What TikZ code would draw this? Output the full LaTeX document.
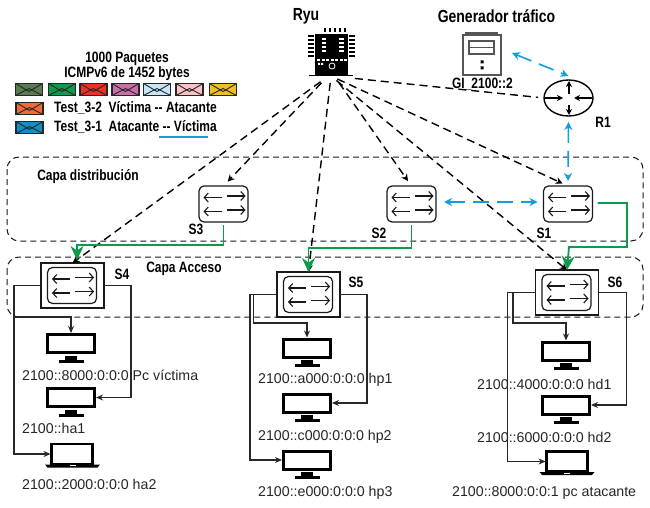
\documentclass[tikz,border=0pt]{standalone}
\usepackage{fontspec}
\setmainfont{Liberation Sans}
\newfontfamily\labelfont[FakeStretch=0.8]{Liberation Sans}
\usetikzlibrary{positioning, arrows.meta, shapes.geometric, calc}
\definecolor{linkblue}{RGB}{15,160,220}
\definecolor{linkgreen}{RGB}{10,155,75}
\definecolor{wirecolor}{RGB}{40,40,40}
\definecolor{devgray}{RGB}{85,85,85}
\definecolor{env1}{RGB}{90,122,80}
\definecolor{env2}{RGB}{15,154,74}
\definecolor{env3}{RGB}{238,49,36}
\definecolor{env4}{RGB}{200,111,168}
\definecolor{env5}{RGB}{200,230,248}
\definecolor{env6}{RGB}{251,192,196}
\definecolor{env7}{RGB}{240,190,30}
\definecolor{envorange}{RGB}{242,106,53}
\definecolor{envblue}{RGB}{13,143,200}

\begin{document}
\begin{tikzpicture}[x=1pt, y=-1pt,
    lbl/.style={inner sep=0pt, font=\labelfont\bfseries\fontsize{15}{16}\selectfont},
    big lbl/.style={inner sep=0pt, font=\labelfont\bfseries\fontsize{17.5}{18}\selectfont},
    addr/.style={inner sep=0pt, anchor=west, text=black!85, font=\fontsize{14.2}{15}\selectfont},
    layer/.style={draw=black!90, rounded corners=12pt, line width=1pt, dash pattern=on 6pt off 4pt},
    ctrl/.style={black, line width=1.4pt, dash pattern=on 8pt off 5pt, shorten <=7pt, -{Stealth[length=7pt,width=7pt]}},
    blue link/.style={linkblue, line width=1.6pt, dash pattern=on 16pt off 8pt, {Stealth[length=8pt,width=8pt]}-{Stealth[length=8pt,width=8pt]}},
    green link/.style={linkgreen, line width=1.8pt, -{Stealth[length=14pt,width=13pt]}},
    wire/.style={wirecolor, line width=1.2pt, -{Stealth[length=7pt,width=6pt]}},
    sw/.style={draw=black!90, rounded corners=5pt, line width=1.2pt, fill=white, minimum width=49pt, minimum height=36pt, inner sep=0pt, outer sep=0pt},
    swout/.style={draw=black!90, line width=1.3pt, fill=white, minimum width=63pt, minimum height=45pt, inner sep=0pt, outer sep=0pt},
    screen/.style={draw=black, line width=3pt, fill=white, minimum width=47pt, minimum height=18pt, inner sep=0pt, outer sep=1.5pt},
    lapscreen/.style={draw=black, line width=2.2pt, fill=white, minimum width=41pt, minimum height=20pt, inner sep=0pt, outer sep=1pt},
    envelope/.style={draw=black!85, line width=1.3pt, fill=#1, minimum width=27pt, minimum height=12pt, inner sep=0pt,
        path picture={
            \draw[black!85, line width=0.9pt] (path picture bounding box.north west) -- ($(path picture bounding box.center)+(0,2)$) -- (path picture bounding box.north east);
            \draw[black!85, line width=0.9pt] (path picture bounding box.south west) -- ($(path picture bounding box.center)+(0,-1)$) -- (path picture bounding box.south east);
        }},
    pics/swarrows/.style={code={
        \draw[black!90, line width=1.1pt, -{Straight Barb[length=4pt,width=9pt]}] (-2,-6.5) -- (-20,-6.5);
        \draw[black!90, line width=1.1pt, -{Straight Barb[length=4pt,width=9pt]}] (3,-8) -- (22,-8);
        \draw[black!90, line width=1.1pt, -{Straight Barb[length=4pt,width=9pt]}] (-2,7.5) -- (-20,7.5);
        \draw[black!90, line width=1.1pt, -{Straight Barb[length=4pt,width=9pt]}] (3,6) -- (22,6);
    }},
    pics/stand/.style={code={
        \fill[black] (-6,0) rectangle (6,4);
        \fill[black] (-12.5,4) rectangle (12.5,7);
    }},
    pics/lapbase/.style={code={
        \fill[black] (-27.5,0) -- (27.5,0) -- (25,3) -- (-25,3) -- cycle;
        \fill[white] (-3,0.6) rectangle (3,1.8);
    }}
]
    \useasboundingbox (0,0) rectangle (650,508);

    % === CAPAS ===
    \node[lbl] (capadist) at (88,177) {Capa distribución};
    \node[lbl] (capaacc) at (184,269) {Capa Acceso};
    \draw[layer] (7,157) rectangle (643,241);
    \draw[layer] (7,257) rectangle (643,317);

    % === RYU ===
    \node[big lbl] (ryulabel) at (306,16) {Ryu};
    \node[fill=black, minimum width=33pt, minimum height=41pt, inner sep=0pt, outer sep=0pt] (ryu) at (331.5,54.5) {};
    \draw[black, line width=1.2pt] (309,75.3) -- (353,75.3);
    \foreach \px in {325,330,335,340,345} \fill[black] (\px-1,28) rectangle (\px+1,32);
    \foreach \py in {36,40,44,48,52,56} {
        \fill[black] (308,\py-0.8) rectangle (314,\py+0.8);
        \fill[black] (349,\py-0.8) rectangle (355,\py+0.8);
    }
    \foreach \py in {39,43,47,51} {
        \fill[white] (322,\py-1) rectangle (326,\py+1);
        \fill[white] (339,\py-1) rectangle (344,\py+1);
    }
    \foreach \px in {317,321.5,326,330.5,335,339.5,344} \fill[white] (\px,59.5) rectangle (\px+3,61.5);
    \fill[white] (318,63) rectangle (320,65) (321,63) rectangle (323,65);
    \draw[white, line width=0.8pt] (332,66) circle (3);
    \coordinate (hub) at (331,76);
    \coordinate (hubleft) at (327,77);
    \coordinate (hubright) at (335,77);

    % === GENERADOR ===
    \node[big lbl] (genlabel) at (496.5,16) {Generador tráfico};
    \node[draw=devgray, line width=1.1pt, minimum width=38pt, minimum height=40pt, inner sep=0pt, outer sep=0pt] (gen) at (482,55) {};
    \draw[devgray, line width=1.1pt] (466,35) -- (466,33) -- (497,33) -- (497,35);
    \node[draw=devgray, line width=1.1pt, minimum width=25pt, minimum height=13pt, inner sep=0pt] (genpanel) at (481.5,47.5) {};
    \draw[devgray, line width=1.1pt] (genpanel.west) -- (genpanel.east);
    \fill[black] (480.5,60.5) rectangle (483.5,63.5) (480.5,66.5) rectangle (483.5,69.5);
    \node[lbl] (genaddr) at (482.5,84) {GI\_2100::2};

    % === R1 ===
    \node[draw=black, ellipse, line width=1.4pt, minimum width=49pt, minimum height=36pt, inner sep=0pt, outer sep=0pt] (r1) at (568.5,98) {};
    \foreach \ax/\ay/\bx/\by in {569/94/569/81,569/105/569/115,545/98/563/98,592/98/574/98}
        \draw[black, line width=1.3pt, -{Stealth[length=6pt,width=6pt]}] (\ax,\ay) -- (\bx,\by);
    \node[lbl] (r1label) at (603,122) {R1};

    % === SWITCHES DISTRIBUCIÓN ===
    \node[sw] (s3) at (223.5,204) {};
    \node[sw] (s2) at (411.5,204) {};
    \node[sw] (s1) at (568,204) {};
    \pic at (s3) {swarrows};
    \pic at (s2) {swarrows};
    \pic at (s1) {swarrows};
    \node[lbl] (s3label) at (196,229) {S3};
    \node[lbl] (s2label) at (379,233) {S2};
    \node[lbl] (s1label) at (544,233) {S1};

    % === SWITCHES ACCESO ===
    \node[swout] (s4out) at (72.5,285.5) {};
    \node[sw] (s4) at (72,285.5) {};
    \node[swout] (s5out) at (308.5,294.5) {};
    \node[sw] (s5) at (308,294.5) {};
    \node[swout] (s6out) at (567,292.5) {};
    \node[sw] (s6) at (566.5,292.5) {};
    \pic at (s4) {swarrows};
    \pic at (s5) {swarrows};
    \pic at (s6) {swarrows};
    \node[lbl] (s4label) at (122,274) {S4};
    \node[lbl] (s5label) at (356,282) {S5};
    \node[lbl] (s6label) at (615,282) {S6};

    % === CONTROL ===
    \draw[ctrl, shorten <=8pt] (hubleft) -- (s4out.north);
    \draw[ctrl, shorten <=8pt, shorten >=6pt] (hubleft) -- (s3.north);
    \draw[ctrl] (hub) -- (s5out.north);
    \draw[ctrl, shorten >=6pt] (hubright) -- (s2.north);
    \draw[ctrl, shorten >=6pt] (hub) -- (s1.north);
    \draw[ctrl] (hub) -- (s6out.north);
    \draw[ctrl, -, shorten >=6pt, shorten <=24pt] (hub) -- (r1.west);

    % === ENLACES ===
    \draw[blue link] ($(gen.east)+(11,-2)$) -- ($(r1.north)+(0,-4)$);
    \draw[blue link, shorten <=5pt, shorten >=5pt] (r1.south) ++(0,1) -- (s1.north);
    \draw[blue link] ($(s2.east)+(8,-2)$) -- ($(s1.west)+(-6,-2)$);
    \draw[green link] (s3.south) ++(0,3) -- ++(0,20) -| ($(s4out.north)+(4.5,-3)$);
    \draw[green link] (s2.south) ++(0,3) -- ++(0,23) -| (s5out.north);
    \draw[green link] ($(s1.east)+(5,-1)$) -- (627,203) |- (569,247) -- (s6out.north);

    % === EQUIPOS S4 ===
    \node[screen] (pc1) at (71,343.5) {};
    \pic at (71,355.5) {stand};
    \node[screen] (pc2) at (71,397.5) {};
    \pic at (71,409.5) {stand};
    \node[lapscreen] (lap1) at (72,454) {};
    \pic at (72.5,464.5) {lapbase};
    \draw[wire] (s4out.west) -- ++(-27,0) |- (lap1.west);
    \draw[wire] (14,317) -- (71,317) -- (pc1.north);
    \draw[wire] (s4out.east) -- ++(27,0) |- (pc2.east);
    \node[addr] (a1) at (22,375) {2100::8000:0:0:0 Pc víctima};
    \node[addr] (a2) at (22,428) {2100::ha1};
    \node[addr] (a3) at (22,484) {2100::2000:0:0:0 ha2};

    % === EQUIPOS S5 ===
    \node[screen] (pc3) at (307,348) {};
    \pic at (307,360) {stand};
    \node[screen] (pc4) at (307,403) {};
    \pic at (307,415) {stand};
    \node[screen] (pc5) at (307,460) {};
    \pic at (307,472) {stand};
    \draw[wire] (s5out.west) -- ++(-27,0) |- (pc5.west);
    \draw[wire] (253.5,294.5) -- (253.5,323) -| (pc3.north);
    \draw[wire] (s5out.east) -- ++(27,0) |- (pc4.east);
    \node[addr] (a4) at (258,380) {2100::a000:0:0:0 hp1};
    \node[addr] (a5) at (258,437) {2100::c000:0:0:0 hp2};
    \node[addr] (a6) at (258,493) {2100::e000:0:0:0 hp3};

    % === EQUIPOS S6 ===
    \node[screen] (pc6) at (566,351) {};
    \pic at (566,363) {stand};
    \node[screen] (pc7) at (566,405) {};
    \pic at (566,417) {stand};
    \node[lapscreen] (lap2) at (567,461.5) {};
    \pic at (567,472) {lapbase};
    \draw[wire] (s6out.west) -- ++(-28,0) |- (lap2.west);
    \draw[wire] (513,292.5) -- (513,323) -| (pc6.north);
    \draw[wire] (s6out.east) -- ++(28,0) |- (pc7.east);
    \node[addr] (a7) at (477,384) {2100::4000:0:0:0 hd1};
    \node[addr] (a8) at (477,437) {2100::6000:0:0:0 hd2};
    \node[addr] (a9) at (452,493) {2100::8000:0:0:1 pc atacante};

    % === LEYENDA ===
    \node[lbl] (ley1) at (127,59) {1000 Paquetes};
    \node[lbl] (ley2) at (127,74) {ICMPv6 de 1452 bytes};
    \foreach \ex/\ec in {29/env1,62/env2,93.5/env3,125.5/env4,157/env5,189.5/env6,223/env7}
        \node[envelope=\ec] (e\ec) at (\ex,89.5) {};
    \node[envelope=envorange] (eorange) at (29.5,108.5) {};
    \node[envelope=envblue] (eblue) at (29.5,127.5) {};
    \node[lbl, anchor=west] (t32) at (54,108) {Test\_3-2\ \ Víctima -- Atacante};
    \node[lbl, anchor=west] (t31) at (54,127) {Test\_3-1\ \ Atacante -- Víctima};
    \coordinate (ula) at (159,137);
    \coordinate (ulb) at (208,137);
    \draw[linkblue, line width=1.3pt] (ula) -- (ulb);
\end{tikzpicture}
\end{document}
